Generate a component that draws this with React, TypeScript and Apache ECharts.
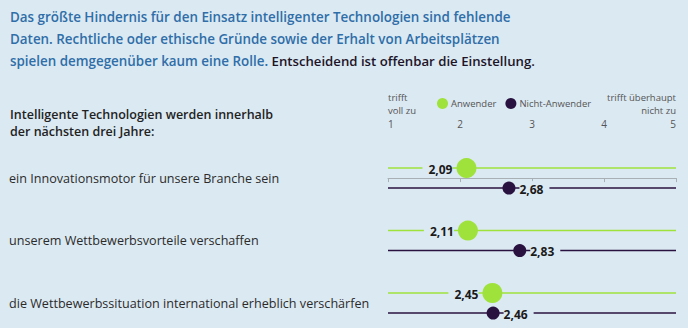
import React, { useEffect, useRef } from "react";
import * as echarts from "echarts";

const titleLines = [
  "Das größte Hindernis für den Einsatz intelligenter Technologien sind fehlende",
  "Daten. Rechtliche oder ethische Gründe sowie der Erhalt von Arbeitsplätzen",
];
const titleLine3Blue = "spielen demgegenüber kaum eine Rolle. ";
const titleLine3Dark = "Entscheidend ist offenbar die Einstellung.";
const header = ["Intelligente Technologien werden innerhalb", "der nächsten drei Jahre:"];
const categories = [
  "ein Innovationsmotor für unsere Branche sein",
  "unserem Wettbewerbsvorteile verschaffen",
  "die Wettbewerbssituation international erheblich verschärfen",
];
const anwender = [2.09, 2.11, 2.45];
const nichtAnwender = [2.68, 2.83, 2.46];
const tickLabels = ["1", "2", "3", "4", "5"];
const leftEndLabel = ["trifft", "voll zu"];
const rightEndLabel = ["trifft überhaupt", "nicht zu"];

const BG = "#dbe9f2";
const BLUE = "#2f6ea8";
const DARK = "#1d1428";
const GREEN = "#9fe23c";
const PURPLE = "#2a1240";
const FONT = "'Open Sans', sans-serif";

function makeRender(kind: "green" | "dark") {
  return (params: any, api: any) => {
    const cs = params.coordSys;
    const idx = api.value(1);
    const val = api.value(0);
    const pt = api.coord([val, idx]);
    const off = kind === "green" ? -10 : 10;
    const y = pt[1] + off;
    const color = kind === "green" ? GREEN : PURPLE;
    const r = kind === "green" ? 10 : 6.5;
    const label = val.toFixed(2).replace(".", ",");
    const children: any[] = [
      {
        type: "line",
        shape: { x1: cs.x, y1: y, x2: cs.x + cs.width, y2: y },
        style: { stroke: color, lineWidth: 1.5 },
      },
      {
        type: "text",
        style: {
          text: label,
          x: kind === "green" ? pt[0] - r - 4 : pt[0] + r + 4,
          y: y + 1,
          align: kind === "green" ? "right" : "left",
          verticalAlign: "middle",
          fill: "#1a1a1a",
          font: `bold 12px ${FONT}`,
          backgroundColor: BG,
          padding: kind === "green" ? [2, 0, 2, 6] : [2, 6, 2, 0],
        },
      },
      {
        type: "circle",
        shape: { cx: pt[0], cy: y, r },
        style: { fill: color },
      },
    ];
    if (kind === "green") {
      children.push({
        type: "text",
        style: {
          text: categories[idx],
          x: 9,
          y: pt[1],
          verticalAlign: "middle",
          fill: "#2b2b2b",
          font: `12.6px ${FONT}`,
        },
      });
    }
    return { type: "group", children };
  };
}

const smallText = (text: string, x: number, y: number, align: string) => ({
  type: "text",
  x,
  y,
  style: { text, fill: "#555", font: `9.5px ${FONT}`, align, verticalAlign: "middle" },
});

export default function App() {
  const ref = useRef<HTMLDivElement>(null);
  useEffect(() => {
    if (!ref.current) return;
    const chart = echarts.init(ref.current, null, { renderer: "svg" });
    chart.setOption({
      animation: false,
      backgroundColor: BG,
      legend: {
        left: 432,
        top: 93,
        itemWidth: 11,
        itemHeight: 11,
        itemGap: 9,
        icon: "circle",
        textStyle: { fontSize: 9.5, color: "#555", fontFamily: FONT, padding: [0, 0, 0, -2] },
        data: [
          { name: "Anwender", itemStyle: { color: GREEN } },
          { name: "Nicht-Anwender", itemStyle: { color: PURPLE } },
        ],
      },
      grid: { left: 388, right: 12, top: 135, height: 193 },
      xAxis: {
        type: "value",
        position: "top",
        min: 1,
        max: 5,
        interval: 1,
        axisLine: { show: true, lineStyle: { color: "#a8b0b6", width: 1 } },
        axisTick: { show: true, inside: true, length: 4, lineStyle: { color: "#a8b0b6" } },
        splitLine: { show: false },
        axisLabel: {
          margin: 6,
          color: "#555",
          fontSize: 10,
          fontFamily: FONT,
          alignMinLabel: "left",
          alignMaxLabel: "right",
          formatter: (v: number) => tickLabels[Math.round(v) - 1],
        },
      },
      yAxis: {
        type: "value",
        inverse: true,
        min: -0.69,
        max: 2.4,
        show: false,
      },
      graphic: [
        {
          type: "text",
          x: 10,
          y: 6,
          style: {
            text: `{b|${titleLines[0]}}\n{b|${titleLines[1]}}\n{b|${titleLine3Blue}}{d|${titleLine3Dark}}`,
            rich: {
              b: { fill: BLUE, font: `600 13.4px ${FONT}`, lineHeight: 22 },
              d: { fill: DARK, font: `600 13.2px ${FONT}`, lineHeight: 22 },
            },
          },
        },
        {
          type: "text",
          x: 10,
          y: 114.5,
          style: { text: header[0], fill: "#222", font: `600 12.5px ${FONT}`, verticalAlign: "middle" },
        },
        {
          type: "text",
          x: 10,
          y: 131.5,
          style: { text: header[1], fill: "#222", font: `600 12.5px ${FONT}`, verticalAlign: "middle" },
        },
        smallText(leftEndLabel[0], 388, 97, "left"),
        smallText(leftEndLabel[1], 388, 110, "left"),
        smallText(rightEndLabel[0], 676, 97, "right"),
        smallText(rightEndLabel[1], 676, 110, "right"),
      ],
      series: [
        {
          name: "Anwender",
          type: "custom",
          itemStyle: { color: GREEN },
          renderItem: makeRender("green"),
          data: anwender.map((v, i) => [v, i]),
          z: 3,
        },
        {
          name: "Nicht-Anwender",
          type: "custom",
          itemStyle: { color: PURPLE },
          renderItem: makeRender("dark"),
          data: nichtAnwender.map((v, i) => [v, i]),
          z: 2,
        },
      ],
    });
    return () => chart.dispose();
  }, []);
  return <div ref={ref} style={{ width: 688, height: 328, position: "fixed", left: 0, top: 0 }} />;
}
